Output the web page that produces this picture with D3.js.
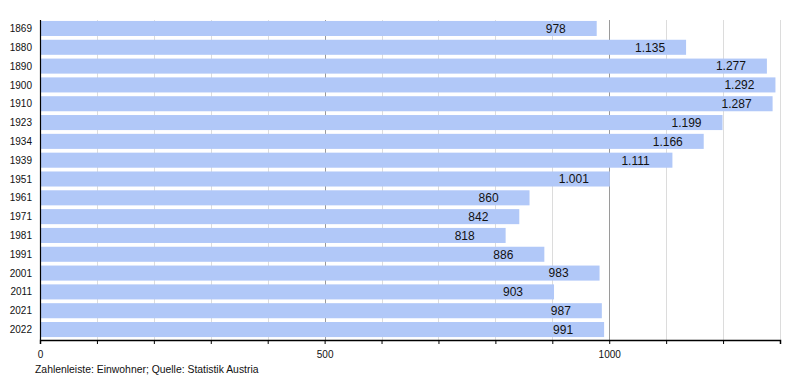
<!DOCTYPE html>
<html>
<head>
<meta charset="utf-8">
<script src="https://cdn.jsdelivr.net/npm/d3@7"></script>
<style>
  body { margin: 0; background: #fff; }
  svg { display: block; font-family: "Liberation Sans", Arial, sans-serif; }
</style>
</head>
<body>
<svg id="chart" width="800" height="380"></svg>
<script>
const years = ["1869","1880","1890","1900","1910","1923","1934","1939","1951","1961","1971","1981","1991","2001","2011","2021","2022"];
const population = [978,1135,1277,1292,1287,1199,1166,1111,1001,860,842,818,886,983,903,987,991];
const majorTicks = [0, 500, 1000];
const minorTicks = [100,200,300,400,500,600,700,800,900,1000,1100,1200,1300];
const footer = "Zahlenleiste: Einwohner; Quelle: Statistik Austria";

const fmt = v => v >= 1000 ? Math.floor(v/1000) + "." + String(v % 1000).padStart(3, "0") : String(v);

const svg = d3.select("#chart");
const plotLeft = 40, plotRight = 780, plotTop = 20, plotBottom = 340;

const x = d3.scaleLinear().domain([0, 1300]).range([plotLeft, plotRight]);
const y = d3.scaleBand().domain(years).range([20, 338]).paddingInner(0.2).paddingOuter(0.05);

// grid
svg.append("g").selectAll("line").data(minorTicks).join("line")
  .attr("x1", d => Math.round(x(d)) + 0.5).attr("x2", d => Math.round(x(d)) + 0.5)
  .attr("y1", plotTop).attr("y2", plotBottom)
  .attr("stroke", d => (d % 500 === 0) ? "#9a9a9a" : "#dcdcdc")
  .attr("stroke-width", 1);

// bars
svg.append("g").selectAll("rect").data(years).join("rect")
  .attr("x", x(0)).attr("y", d => y(d))
  .attr("width", (d, i) => x(population[i]) - x(0))
  .attr("height", y.bandwidth())
  .attr("fill", "#b1c8f8");

// value labels
svg.append("g").selectAll("text").data(years).join("text")
  .attr("x", (d, i) => x(population[i]) - 51)
  .attr("y", d => y(d) + y.bandwidth() / 2)
  .attr("dy", "0.36em")
  .attr("font-size", 12)
  .attr("fill", "#111")
  .text((d, i) => fmt(population[i]));

// y labels
svg.append("g").selectAll("text").data(years).join("text")
  .attr("x", 32)
  .attr("y", d => y(d) + y.bandwidth() / 2)
  .attr("dy", "0.36em")
  .attr("text-anchor", "end")
  .attr("font-size", 10)
  .attr("fill", "#111")
  .text(d => d);

// x axis
const ax = svg.append("g").attr("transform", `translate(0,${plotBottom})`)
  .call(d3.axisBottom(x).tickValues([0, ...minorTicks]).tickSize(4).tickFormat(d => majorTicks.includes(d) ? d : ""));
ax.select(".domain").attr("stroke", "#000").attr("stroke-width", 1.5);
ax.selectAll(".tick line").attr("stroke", "#000");
ax.selectAll(".tick text").attr("font-size", 10).attr("font-family", "'Liberation Sans', Arial, sans-serif").attr("fill", "#111").attr("dy", "1.2em").attr("y", 6);

// left axis line
svg.append("line").attr("x1", plotLeft + 0.5).attr("x2", plotLeft + 0.5).attr("y1", plotTop).attr("y2", plotBottom)
  .attr("stroke", "#000").attr("stroke-width", 1.2);

// footer
svg.append("text").attr("x", 35).attr("y", 373).attr("font-size", 10.4).attr("fill", "#111").text(footer);
</script>
</body>
</html>
